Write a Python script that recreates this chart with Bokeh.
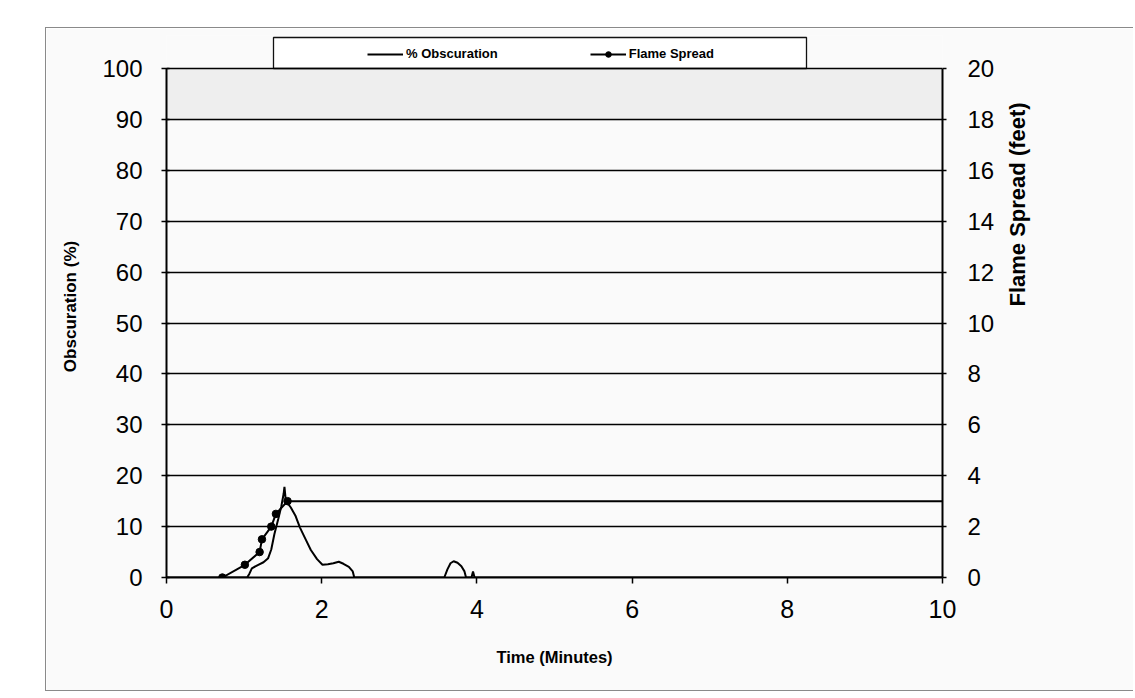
import math
from bokeh.plotting import figure
from bokeh.models import (Range1d, LinearAxis, FixedTicker, BoxAnnotation,
                          Legend, LegendItem)
from bokeh.embed import file_html
from bokeh.resources import INLINE

# ---- data ----
obs_time = [0.0, 1.04, 1.07, 1.10, 1.17, 1.25, 1.31, 1.35, 1.39, 1.44, 1.48, 1.51,
            1.52, 1.535, 1.56, 1.60, 1.66, 1.72, 1.79, 1.86, 1.94, 2.01, 2.08,
            2.15, 2.22, 2.28, 2.35, 2.40, 2.42, 3.58, 3.62, 3.66, 3.70, 3.75,
            3.80, 3.84, 3.86, 3.93, 3.95, 3.97, 10.0]
obs_pct = [0.0, 0.0, 0.8, 1.8, 2.4, 3.0, 3.8, 5.5, 8.5, 11.5, 14.0, 16.5,
           17.8, 15.5, 14.6, 13.8, 12.2, 9.8, 7.6, 5.4, 3.6, 2.5, 2.6,
           2.8, 3.1, 2.7, 2.1, 1.2, 0.0, 0.0, 1.6, 2.8, 3.2, 2.9,
           2.2, 1.2, 0.0, 0.0, 1.2, 0.0, 0.0]

flame_time = [0.72, 1.01, 1.20, 1.23, 1.35, 1.41, 1.56, 10.0]
flame_ft = [0.0, 0.5, 1.0, 1.5, 2.0, 2.5, 3.0, 3.0]

x_ticks = [0, 2, 4, 6, 8, 10]
left_ticks = [0, 10, 20, 30, 40, 50, 60, 70, 80, 90, 100]
right_ticks = [0, 2, 4, 6, 8, 10, 12, 14, 16, 18, 20]

FONT = "Liberation Sans"
BG = "#fafafa"

# layout (page pixels)
ORIG_X, ORIG_Y = 46, 28          # canvas origin inside the bordered box
W, H = 1088, 664
F_LEFT, F_RIGHT, F_TOP, F_BOTTOM = 166, 942, 35, 577
Y100 = 68                         # page y of 100 %
Y_TOP = 100.0 * (F_BOTTOM - F_TOP) / (F_BOTTOM - Y100)

p = figure(width=W, height=H, output_backend="svg", toolbar_location=None,
           x_range=Range1d(0, 10), y_range=Range1d(0, Y_TOP),
           min_border_left=F_LEFT - ORIG_X, min_border_right=ORIG_X + W - F_RIGHT,
           min_border_top=F_TOP - ORIG_Y, min_border_bottom=ORIG_Y + H - F_BOTTOM,
           background_fill_color=BG, border_fill_color=BG,
           outline_line_color=None)
p.styles = {"margin-left": "45px", "margin-top": "27px",
            "border-left": "1px solid #8a8a8a", "border-top": "1px solid #8a8a8a",
            "border-bottom": "1px solid #8a8a8a"}
p.extra_y_ranges = {"flame": Range1d(0, Y_TOP / 5.0)}

# grid
p.xgrid.visible = False
p.ygrid.ticker = FixedTicker(ticks=left_ticks)
p.ygrid.grid_line_color = "black"
p.ygrid.grid_line_width = 1.4
p.ygrid.level = "glyph"

# gray band at top
p.add_layout(BoxAnnotation(bottom=89.7, top=100, fill_color="#eeeeee", fill_alpha=1,
                           line_color=None, level="image"))

# legend box (screen units relative to frame bottom-left)
p.add_layout(BoxAnnotation(left=273 - F_LEFT, right=806 - F_LEFT,
                           bottom=F_BOTTOM - Y100, top=F_BOTTOM - 37,
                           left_units="screen", right_units="screen",
                           bottom_units="screen", top_units="screen",
                           fill_color="white", fill_alpha=1,
                           line_color="#111111", line_alpha=1, line_width=1.3,
                           level="image"))

# bottom axis
xa = p.xaxis[0]
xa.ticker = FixedTicker(ticks=x_ticks)
xa.axis_line_width = 2
xa.axis_line_color = "black"
xa.major_tick_out = 6
xa.major_tick_in = 0
xa.major_tick_line_width = 1.5
xa.minor_tick_line_color = None
xa.major_label_text_font = FONT
xa.major_label_text_font_size = "25px"
xa.major_label_text_color = "black"
xa.major_label_standoff = 16
xa.axis_label = "Time (Minutes)"
xa.axis_label_text_font = FONT
xa.axis_label_text_font_size = "16.5px"
xa.axis_label_text_font_style = "bold"
xa.axis_label_text_color = "black"
xa.axis_label_standoff = 27

# left axis
ya = p.yaxis[0]
ya.ticker = FixedTicker(ticks=left_ticks)
ya.bounds = (0, 100)
ya.axis_line_width = 2
ya.axis_line_color = "black"
ya.major_tick_out = 5
ya.major_tick_in = 3
ya.major_tick_line_width = 1.5
ya.minor_tick_line_color = None
ya.major_label_text_font = FONT
ya.major_label_text_font_size = "24px"
ya.major_label_text_color = "black"
ya.major_label_standoff = 19
ya.axis_label = "Obscuration (%)"
ya.axis_label_text_font = FONT
ya.axis_label_text_font_size = "17px"
ya.axis_label_text_font_style = "bold"
ya.axis_label_text_color = "black"
ya.axis_label_standoff = 19

# right axis
ra = LinearAxis(y_range_name="flame", ticker=FixedTicker(ticks=right_ticks), bounds=(0, 20))
ra.axis_line_width = 2
ra.axis_line_color = "black"
ra.major_tick_out = 4
ra.major_tick_in = 0
ra.major_tick_line_width = 1.5
ra.minor_tick_line_color = None
ra.major_label_text_font = FONT
ra.major_label_text_font_size = "24px"
ra.major_label_text_color = "black"
ra.major_label_standoff = 21
ra.axis_label = "Flame Spread (feet)"
ra.axis_label_text_font = FONT
ra.axis_label_text_font_size = "22px"
ra.axis_label_text_font_style = "bold"
ra.axis_label_text_color = "black"
ra.axis_label_standoff = 20
ra.axis_label_orientation = math.pi / 2
p.add_layout(ra, "right")

# data
r_obs = p.line(obs_time, obs_pct, line_color="black", line_width=2)
r_fl = p.line(flame_time, flame_ft, y_range_name="flame", line_color="black", line_width=2)
r_pts = p.scatter(flame_time[:-1], flame_ft[:-1], y_range_name="flame",
                  size=7.5, fill_color="black", line_color="black")

legend = Legend(items=[LegendItem(label="% Obscuration", renderers=[r_obs]),
                       LegendItem(label="Flame Spread", renderers=[r_fl, r_pts])],
                orientation="horizontal", location=(367 - F_LEFT, F_BOTTOM - 61),
                glyph_width=36, glyph_height=14, label_standoff=3, spacing=92,
                padding=0, margin=0, border_line_alpha=0, background_fill_alpha=0,
                label_text_font=FONT, label_text_font_size="13px",
                label_text_font_style="bold", label_text_color="black")
p.add_layout(legend, "center")

open("out.html", "w").write(file_html(p, INLINE))
